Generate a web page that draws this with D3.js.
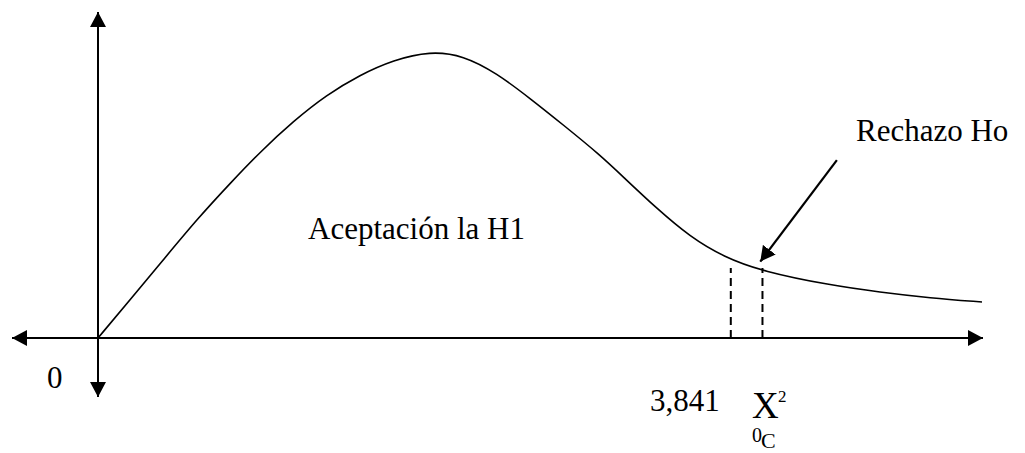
<!DOCTYPE html>
<html>
<head>
<meta charset="utf-8">
<script src="https://cdn.jsdelivr.net/npm/d3@7"></script>
<style>
  html, body { margin: 0; padding: 0; background: #fff; }
  svg { display: block; }
</style>
</head>
<body>
<div id="vis1"></div>
<script>
const FRAME_WIDTH = 1025;
const FRAME_HEIGHT = 453;
const FONT = "'Liberation Serif', 'Times New Roman', Times, serif";

// curve (x: units along the axis, y: height relative to the peak)
const CURVE_X = [0, 0.452, 0.905, 1.357, 1.809, 2.199, 2.651, 3.104, 3.556, 4.009, 4.507, 4.959, 5.412, 5.864, 6.316, 6.815, 7.131, 7.584, 8.036, 8.489, 9.032, 9.936, 10.615, 11.294, 12.0];
const CURVE_Y = [0, 0.139, 0.279, 0.419, 0.545, 0.650, 0.758, 0.850, 0.920, 0.972, 1.003, 0.988, 0.926, 0.838, 0.745, 0.640, 0.563, 0.453, 0.354, 0.284, 0.232, 0.185, 0.160, 0.140, 0.126];

// dashed markers (critical value and computed value)
const CUT_X = [8.59, 9.02];
const CUT_TOP = 0.245;

// annotation arrow: from label to curve
const ARROW_FROM = [10.03, 0.622];
const ARROW_TO = [8.99, 0.267];

const LABELS = {
  origin: "0",
  accept: "Aceptación la H1",
  reject: "Rechazo Ho",
  critical: "3,841"
};

const X_SCALE = d3.scaleLinear().domain([0, 12]).range([98, 982]);
const Y_SCALE = d3.scaleLinear().domain([0, 1]).range([338, 52]);

const FRAME1 = d3.select("#vis1")
  .append("svg")
    .attr("width", FRAME_WIDTH)
    .attr("height", FRAME_HEIGHT)
    .attr("font-family", FONT);

// arrowhead marker
FRAME1.append("defs").append("marker")
    .attr("id", "head")
    .attr("markerUnits", "userSpaceOnUse")
    .attr("viewBox", "0 0 15 16")
    .attr("refX", 15)
    .attr("refY", 8)
    .attr("markerWidth", 15)
    .attr("markerHeight", 16)
    .attr("orient", "auto-start-reverse")
  .append("path")
    .attr("d", "M0,0 L15,8 L0,16 Z")
    .attr("fill", "#000");

// axes with arrows on both ends
const x0 = X_SCALE(0), y0 = Y_SCALE(0);
FRAME1.append("line")
    .attr("x1", 12).attr("y1", y0)
    .attr("x2", X_SCALE.range()[1] + 1).attr("y2", y0)
    .attr("stroke", "#000").attr("stroke-width", 2)
    .attr("marker-start", "url(#head)")
    .attr("marker-end", "url(#head)");

FRAME1.append("line")
    .attr("x1", x0).attr("y1", 397)
    .attr("x2", x0).attr("y2", 12)
    .attr("stroke", "#000").attr("stroke-width", 2)
    .attr("marker-start", "url(#head)")
    .attr("marker-end", "url(#head)");

// distribution curve
const pts = CURVE_X.map((x, i) => [x, CURVE_Y[i]]);
const line = d3.line()
    .x(d => X_SCALE(d[0]))
    .y(d => Y_SCALE(d[1]))
    .curve(d3.curveBasis);

FRAME1.append("path")
    .datum(pts)
    .attr("d", line)
    .attr("fill", "none")
    .attr("stroke", "#000")
    .attr("stroke-width", 1.6);

// dashed cut lines
FRAME1.selectAll(".cut")
  .data(CUT_X)
  .enter()
  .append("line")
    .attr("class", "cut")
    .attr("x1", d => X_SCALE(d)).attr("x2", d => X_SCALE(d))
    .attr("y1", y0).attr("y2", Y_SCALE(CUT_TOP))
    .attr("stroke", "#000")
    .attr("stroke-width", 2)
    .attr("stroke-dasharray", "8,5");

// annotation arrow
FRAME1.append("line")
    .attr("x1", X_SCALE(ARROW_FROM[0])).attr("y1", Y_SCALE(ARROW_FROM[1]))
    .attr("x2", X_SCALE(ARROW_TO[0])).attr("y2", Y_SCALE(ARROW_TO[1]))
    .attr("stroke", "#000").attr("stroke-width", 2.2)
    .attr("marker-end", "url(#head)");

// labels
const addText = (x, y, size, str) =>
  FRAME1.append("text").attr("x", x).attr("y", y)
      .attr("font-size", size).attr("fill", "#000").text(str);

addText(47, 388, 31, LABELS.origin);
addText(308, 239, 31, LABELS.accept);
addText(856, 141, 31, LABELS.reject);
addText(650, 411, 31, LABELS.critical);

// X² with subscript 0c
addText(752, 418, 37, "X");
addText(778, 402, 17, "2");
addText(752, 442, 20, "0");
addText(761, 448, 22, "C");
</script>
</body>
</html>
